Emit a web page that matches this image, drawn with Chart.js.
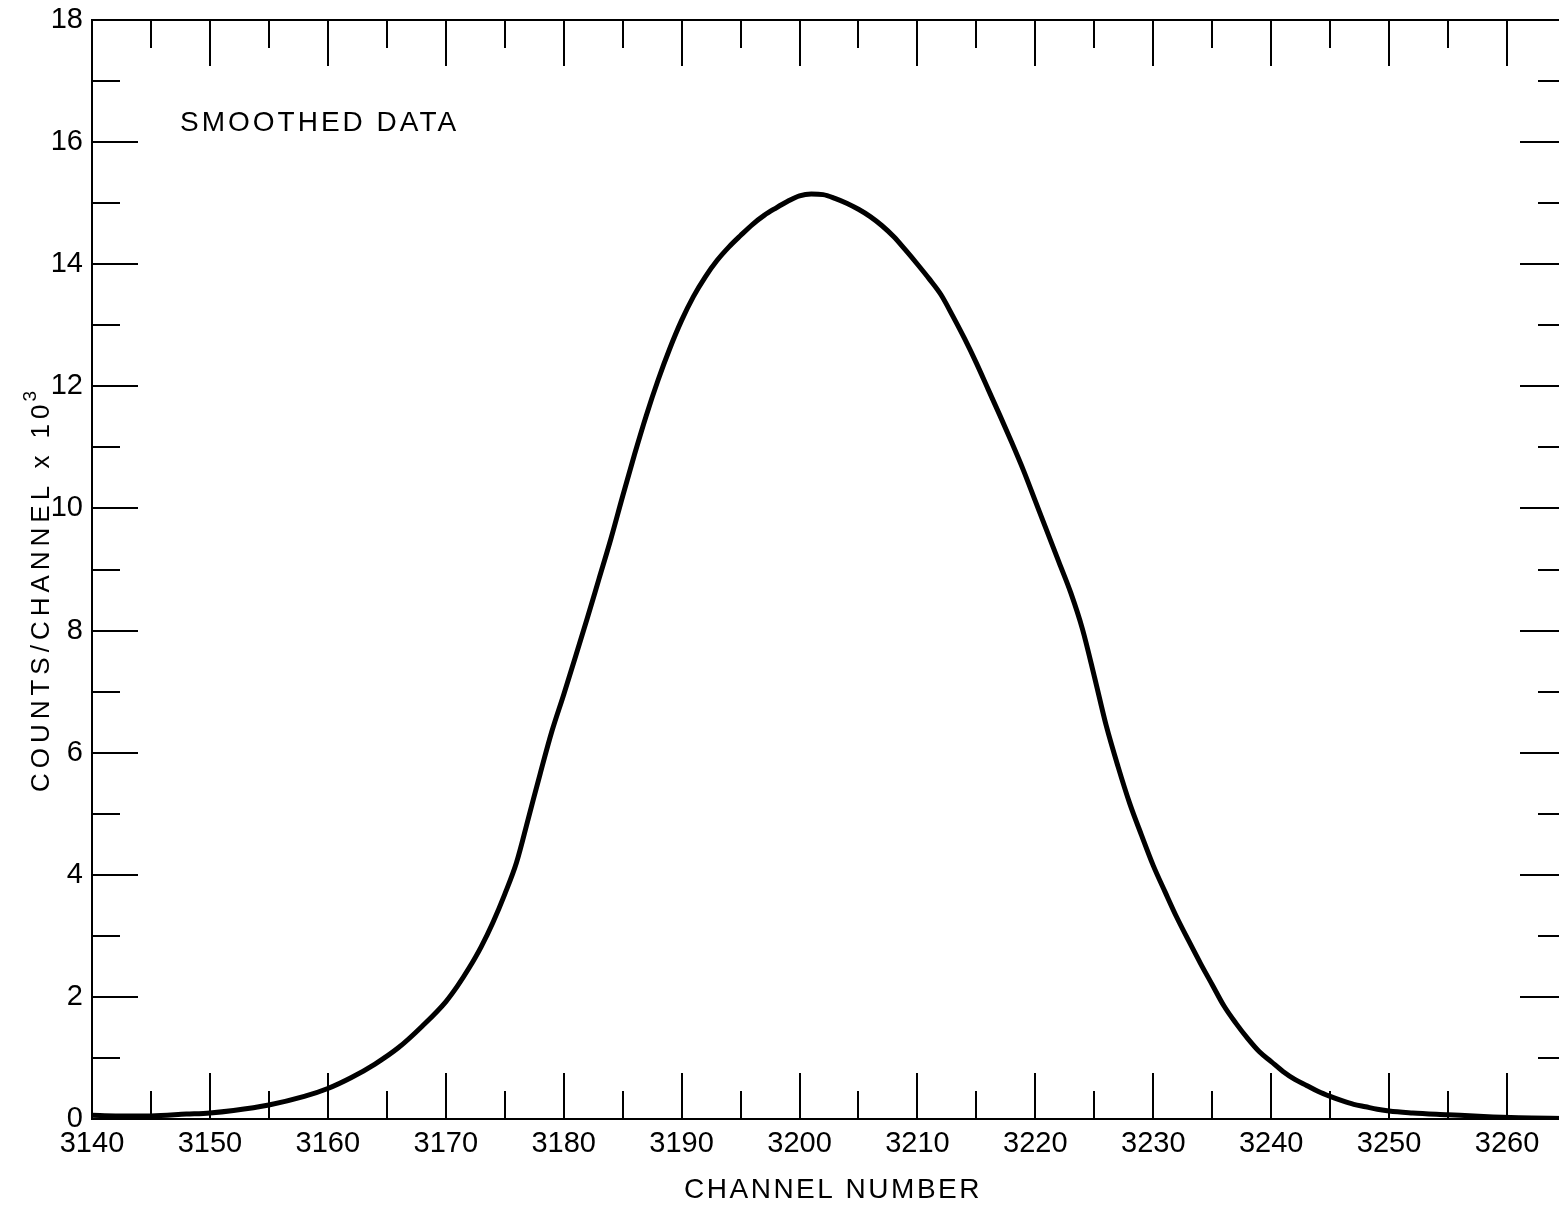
<!DOCTYPE html>
<html>
<head>
<meta charset="utf-8">
<script src="https://cdn.jsdelivr.net/npm/chart.js@4/dist/chart.umd.min.js"></script>
<style>
  html, body { margin: 0; padding: 0; background: #fff; overflow: hidden; }
  #wrap { width: 1559px; height: 1206px; overflow: hidden; position: relative; }
  canvas { display: block; }
</style>
</head>
<body>
<div id="wrap"><canvas id="c" width="1600" height="1206" style="width:1600px;height:1206px"></canvas></div>
<script>
// ---- data ----
const channels = [3140,3142,3145,3148,3150,3152,3155,3158,3160,3162,3164,3166,3168,3170,3171,3172,3173,3174,3175,3176,3177,3178,3179,3180,3181,3182,3183,3184,3185,3186,3187,3188,3189,3190,3191,3192,3193,3194,3195,3196,3197,3198,3199,3200,3201,3202,3203,3204,3205,3206,3207,3208,3209,3210,3211,3212,3213,3214,3215,3216,3217,3218,3219,3220,3221,3222,3223,3224,3225,3226,3227,3228,3229,3230,3231,3232,3233,3234,3235,3236,3237,3238,3239,3240,3241,3242,3243,3244,3245,3246,3247,3248,3249,3250,3252,3255,3258,3261,3265];
const counts = [0.06,0.05,0.05,0.08,0.10,0.14,0.23,0.37,0.50,0.68,0.90,1.17,1.52,1.92,2.18,2.48,2.82,3.22,3.68,4.20,4.92,5.65,6.35,6.95,7.57,8.20,8.85,9.50,10.20,10.88,11.52,12.10,12.62,13.08,13.47,13.79,14.06,14.28,14.47,14.65,14.80,14.92,15.03,15.12,15.15,15.14,15.08,15.00,14.90,14.78,14.63,14.45,14.23,14.00,13.76,13.50,13.15,12.78,12.38,11.95,11.52,11.08,10.62,10.12,9.62,9.12,8.62,8.02,7.25,6.45,5.78,5.17,4.65,4.15,3.72,3.30,2.92,2.55,2.20,1.85,1.57,1.32,1.10,0.94,0.78,0.65,0.55,0.45,0.37,0.30,0.24,0.20,0.16,0.13,0.10,0.07,0.04,0.02,0.01];
const xTickLabels = [3140,3150,3160,3170,3180,3190,3200,3210,3220,3230,3240,3250,3260];
const xMinorTicks = [3145,3155,3165,3175,3185,3195,3205,3215,3225,3235,3245,3255,3265];
const yTickLabels = [0,2,4,6,8,10,12,14,16,18];
const yMinorTicks = [1,3,5,7,9,11,13,15,17];
const xRange = [3140, 3265];
const yRange = [0, 18];
const xTitle = 'CHANNEL NUMBER';
const yTitleMain = 'COUNTS/CHANNEL x 10';
const yTitleSup = '3';
const note = 'SMOOTHED DATA';

const FONT = '"Liberation Sans", Arial, sans-serif';
const INK = '#000';

const frameTicks = {
  id: 'frameTicks',
  beforeDatasetsDraw(chart) {
    const {ctx, chartArea: a, scales: {x, y}} = chart;
    ctx.save();
    ctx.strokeStyle = INK;
    ctx.lineWidth = 2;
    ctx.lineCap = 'butt';
    ctx.beginPath();
    ctx.moveTo(a.left, a.top); ctx.lineTo(a.right, a.top);
    ctx.moveTo(a.right, a.top); ctx.lineTo(a.right, a.bottom);
    ctx.stroke();
    const LONG = 46, SHORT = 28;
    ctx.beginPath();
    const xt = (v, len) => {
      const px = Math.round(x.getPixelForValue(v));
      ctx.moveTo(px, a.bottom); ctx.lineTo(px, a.bottom - len);
      ctx.moveTo(px, a.top); ctx.lineTo(px, a.top + len);
    };
    xTickLabels.forEach(v => xt(v, LONG));
    xMinorTicks.forEach(v => xt(v, SHORT));
    const yt = (v, len) => {
      const py = Math.round(y.getPixelForValue(v));
      ctx.moveTo(a.left, py); ctx.lineTo(a.left + len, py);
      ctx.moveTo(a.right, py); ctx.lineTo(a.right - len, py);
    };
    yTickLabels.forEach(v => yt(v, LONG));
    yMinorTicks.forEach(v => yt(v, SHORT));
    ctx.stroke();
    ctx.restore();
  },
  afterDraw(chart) {
    const {ctx} = chart;
    ctx.save();
    ctx.fillStyle = INK;
    ctx.textBaseline = 'middle';
    ctx.font = '28px ' + FONT;
    if ('letterSpacing' in ctx) ctx.letterSpacing = '3px';
    ctx.textAlign = 'left';
    ctx.fillText(note, 180, 123);
    if ('letterSpacing' in ctx) ctx.letterSpacing = '2.5px';
    ctx.textAlign = 'center';
    ctx.fillText(xTitle, 833, 1190);
    // y title (rotated), with superscript
    ctx.font = '26px ' + FONT;
    if ('letterSpacing' in ctx) ctx.letterSpacing = '5px';
    const wMain = ctx.measureText(yTitleMain).width;
    ctx.font = '19px ' + FONT;
    const wSup = ctx.measureText(yTitleSup).width;
    const total = wMain + wSup;
    ctx.translate(42, 588);
    ctx.rotate(-Math.PI / 2);
    ctx.textAlign = 'left';
    ctx.font = '26px ' + FONT;
    ctx.fillText(yTitleMain, -total / 2, 0);
    ctx.font = '19px ' + FONT;
    ctx.fillText(yTitleSup, -total / 2 + wMain - 2, -11);
    ctx.restore();
  }
};

new Chart(document.getElementById('c'), {
  type: 'line',
  data: {
    datasets: [{
      data: channels.map((c, i) => ({x: c, y: counts[i]})),
      borderColor: INK,
      borderWidth: 5,
      pointRadius: 0,
      fill: false,
      cubicInterpolationMode: 'monotone'
    }]
  },
  options: {
    responsive: false,
    animation: false,
    events: [],
    layout: { padding: { top: 20, right: 34, left: 0, bottom: 0 } },
    plugins: { legend: { display: false }, tooltip: { enabled: false } },
    scales: {
      x: {
        type: 'linear',
        min: xRange[0], max: xRange[1],
        afterBuildTicks: s => { s.ticks = xTickLabels.map(v => ({value: v})); },
        afterFit: s => { s.height = 87; s.paddingLeft = 0; s.paddingRight = 0; },
        grid: { display: false, drawTicks: false },
        border: { display: true, color: INK, width: 2 },
        ticks: {
          color: INK, padding: 8, maxRotation: 0, autoSkip: false,
          font: { family: FONT, size: 29 },
          callback: v => String(v)
        }
      },
      y: {
        type: 'linear',
        min: yRange[0], max: yRange[1],
        afterBuildTicks: s => { s.ticks = yTickLabels.map(v => ({value: v})); },
        afterFit: s => { s.width = 92; s.paddingTop = 0; s.paddingBottom = 0; },
        grid: { display: false, drawTicks: false },
        border: { display: true, color: INK, width: 2 },
        ticks: {
          color: INK, padding: 9, autoSkip: false,
          font: { family: FONT, size: 29 },
          callback: v => String(v)
        }
      }
    }
  },
  plugins: [frameTicks]
});
</script>
</body>
</html>
